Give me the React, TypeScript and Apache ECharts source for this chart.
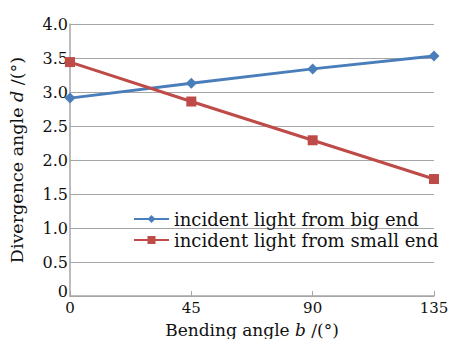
import React, { useEffect, useRef } from "react";
import * as echarts from "echarts";

const bendAngles = [0, 45, 90, 135];
const bigEnd = [2.91, 3.13, 3.34, 3.53];
const smallEnd = [3.44, 2.86, 2.29, 1.72];
const seriesNames = ["incident light from big end", "incident light from small end"];

const FONT = "DejaVu Serif";

export default function App() {
  const ref = useRef<HTMLDivElement>(null);
  useEffect(() => {
    if (!ref.current) return;
    const chart = echarts.init(ref.current, undefined, { renderer: "svg" });
    chart.setOption({
      animation: false,
      backgroundColor: "#ffffff",
      textStyle: { fontFamily: FONT, color: "#111" },
      grid: { left: 70, right: 22, top: 24, bottom: 43, outerBoundsMode: "none", containLabel: false },
      legend: {
        left: 128,
        top: 205,
        orient: "vertical",
        itemGap: 3,
        itemWidth: 35,
        itemHeight: 10,
        textStyle: { fontFamily: FONT, fontSize: 18, color: "#111" },
        data: seriesNames,
      },
      xAxis: {
        type: "value",
        min: 0,
        max: 135,
        interval: 45,
        name: "Bending angle {i|b} /(°)",
        nameLocation: "middle",
        nameGap: 21,
        nameTextStyle: {
          fontFamily: FONT,
          fontSize: 17,
          color: "#111",
          lineHeight: 18,
          rich: { i: { fontStyle: "italic", fontFamily: FONT, fontSize: 17, color: "#111", lineHeight: 18 } },
        },
        axisLine: { show: true, lineStyle: { color: "#a6a6a6", width: 1.5 } },
        axisTick: { show: true, inside: true, length: 5, lineStyle: { color: "#a6a6a6" } },
        axisLabel: { fontFamily: FONT, fontSize: 15, color: "#111", margin: 4, lineHeight: 16 },
        splitLine: { show: false },
      },
      yAxis: {
        type: "value",
        min: 0,
        max: 4,
        interval: 0.5,
        name: "Divergence angle {i|d} /(°)",
        nameLocation: "middle",
        nameGap: 44,
        nameTextStyle: {
          fontFamily: FONT,
          fontSize: 17.5,
          color: "#111",
          rich: { i: { fontStyle: "italic", fontFamily: FONT, fontSize: 17.5, color: "#111" } },
        },
        axisLine: { show: true, lineStyle: { color: "#a6a6a6", width: 1.5 } },
        axisTick: { show: false },
        axisLabel: {
          fontFamily: FONT,
          fontSize: 16,
          color: "#111",
          margin: 2,
          formatter: (v: number) => (v === 0 ? "{z|0}" : v.toFixed(1)),
          rich: { z: { fontFamily: FONT, fontSize: 16, color: "#111", padding: [0, 0, 10, 0] } },
        },
        splitLine: { show: true, lineStyle: { color: "#a6a6a6", width: 1 } },
      },
      series: [
        {
          name: seriesNames[0],
          type: "line",
          data: bendAngles.map((x, i) => [x, bigEnd[i]]),
          symbol: "diamond",
          symbolSize: 11,
          color: "#4a7ebb",
          lineStyle: { width: 3, color: "#4a7ebb" },
          itemStyle: { color: "#4a7ebb" },
        },
        {
          name: seriesNames[1],
          type: "line",
          data: bendAngles.map((x, i) => [x, smallEnd[i]]),
          symbol: "rect",
          symbolSize: 10,
          color: "#be4b48",
          lineStyle: { width: 3, color: "#be4b48" },
          itemStyle: { color: "#be4b48" },
        },
      ],
    });
    return () => chart.dispose();
  }, []);
  return <div ref={ref} style={{ width: 456, height: 339, position: "absolute", left: 0, top: 0 }} />;
}
